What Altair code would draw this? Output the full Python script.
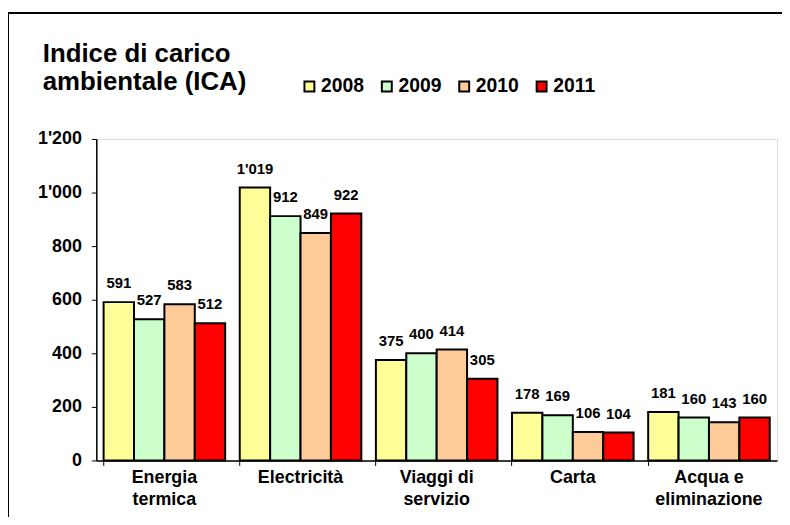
import altair as alt
import pandas as pd

FONT = "Liberation Sans"

title_lines = ["Indice di carico", "ambientale (ICA)"]
categories = ["Energia\ntermica", "Electricità", "Viaggi di\nservizio", "Carta", "Acqua e\neliminazione"]
years = ["2008", "2009", "2010", "2011"]
v2008 = [591, 1019, 375, 178, 181]
v2009 = [527, 912, 400, 169, 160]
v2010 = [583, 849, 414, 106, 143]
v2011 = [512, 922, 305, 104, 160]
colors = ["#FFFF99", "#CCFFCC", "#FFCC99", "#FF0000"]
y_ticks = [0, 200, 400, 600, 800, 1000, 1200]

series = {"2008": v2008, "2009": v2009, "2010": v2010, "2011": v2011}
rows = []
for y in years:
    for c, v in zip(categories, series[y]):
        rows.append({"cat": c, "year": y, "value": v})
df = pd.DataFrame(rows)
one = pd.DataFrame({"k": [0]})

x_enc = alt.X(
    "cat:N",
    sort=categories,
    scale=alt.Scale(paddingInner=0.107, paddingOuter=0.0535),
    axis=alt.Axis(
        title=None,
        labelAngle=0,
        labelExpr="split(datum.label, '\\n')",
        labelFont=FONT,
        labelFontSize=18,
        labelFontWeight="bold",
        labelColor="black",
        labelLineHeight=22,
        labelPadding=3,
        labelBaseline="top",
        tickSize=5,
        tickColor="black",
        domainColor="black",
        domainWidth=1.5,
        bandPosition=0,
    ),
)
xoff = alt.XOffset("year:N", sort=years, scale=alt.Scale(paddingInner=0, paddingOuter=0))
y_enc = alt.Y(
    "value:Q",
    scale=alt.Scale(domain=[0, 1200], nice=False, zero=True),
    axis=alt.Axis(
        title=None,
        values=y_ticks,
        grid=False,
        labelExpr="replace(format(datum.value, ','), ',', \"'\")",
        labelFont=FONT,
        labelFontSize=18,
        labelFontWeight="bold",
        labelColor="black",
        labelPadding=10,
        tickSize=5,
        tickColor="black",
        domainColor="black",
        domainWidth=1.5,
    ),
)

base = alt.Chart(df)

bars = base.mark_bar(stroke="black", strokeWidth=2).encode(
    x=x_enc,
    xOffset=xoff,
    y=y_enc,
    color=alt.Color(
        "year:N",
        sort=years,
        scale=alt.Scale(domain=years, range=colors),
        legend=alt.Legend(
            title=None,
            orient="none",
            legendX=205,
            legendY=-63,
            direction="horizontal",
            symbolType="square",
            symbolSize=100,
            symbolStrokeColor="black",
            symbolStrokeWidth=2,
            symbolOpacity=1,
            labelFont=FONT,
            labelFontSize=19.5,
            labelFontWeight="bold",
            labelColor="black",
            labelOffset=2,
            columnPadding=13,
        ),
    ),
)

labels = base.transform_calculate(
    label="replace(format(datum.value, ','), ',', \"'\")"
).mark_text(
    dy=-14, baseline="alphabetic", font=FONT, fontSize=15, fontWeight="bold", color="black"
).encode(
    x=alt.X("cat:N", sort=categories),
    xOffset=alt.XOffset("year:N", sort=years),
    y=alt.Y("value:Q"),
    text="label:N",
)

title = alt.Chart(one).mark_text(
    text=title_lines,
    align="left",
    baseline="alphabetic",
    font=FONT,
    fontSize=26,
    fontWeight="bold",
    color="black",
    lineHeight=29,
).encode(x=alt.value(-54), y=alt.value(-78))

frame_left = alt.Chart(one).mark_rule(color="black", strokeWidth=2).encode(
    x=alt.value(-89), x2=alt.value(-89), y=alt.value(-127), y2=alt.value(600)
)
frame_top = alt.Chart(one).mark_rule(color="black", strokeWidth=2).encode(
    x=alt.value(-90), x2=alt.value(800), y=alt.value(-127), y2=alt.value(-127)
)

chart = (
    alt.layer(frame_left, frame_top, title, bars, labels)
    .properties(
        width=686,
        height=324,
        padding={"left": 89, "right": 5, "top": 130, "bottom": 55},
        autosize=alt.AutoSizeParams(type="none"),
    )
    .configure_view(stroke=None)
    .configure(background="white")
)

chart.save("out.html", embed_options={"renderer": "svg", "actions": False})
